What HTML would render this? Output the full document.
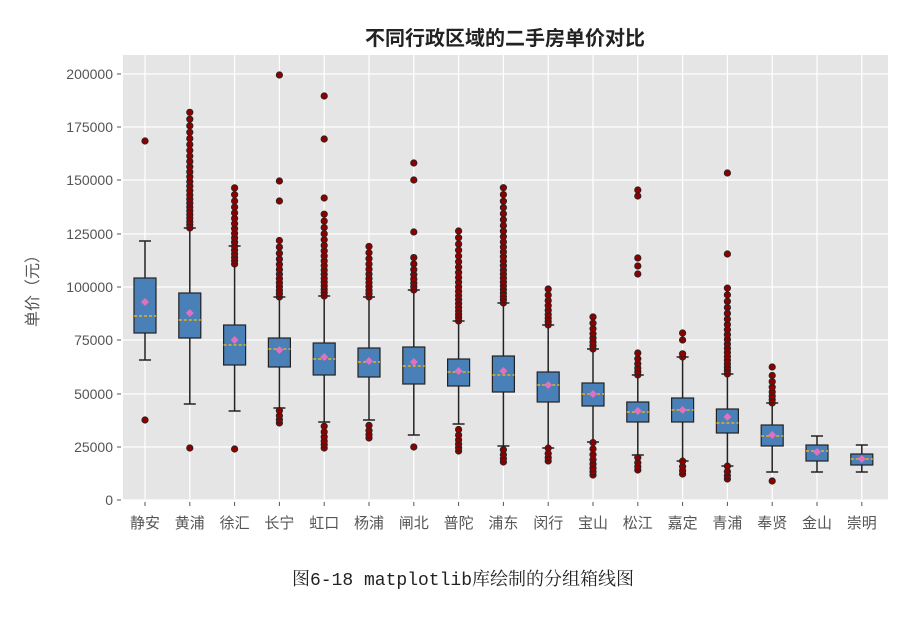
<!DOCTYPE html>
<html><head><meta charset="utf-8"><style>
body{margin:0;background:#fff;width:916px;height:612px;overflow:hidden}
</style></head><body>
<svg id="s" width="916" height="612" xmlns="http://www.w3.org/2000/svg" font-family="Liberation Sans, Noto Sans CJK SC, sans-serif">
<rect x="123" y="55" width="765" height="445" fill="#e5e5e5"/>
<g id="g"></g>
<text x="505" y="45" font-size="20" font-weight="bold" text-anchor="middle" fill="#222" font-family="Noto Sans CJK SC, sans-serif">不同行政区域的二手房单价对比</text>
<text transform="translate(38,287) rotate(-90)" font-size="16" text-anchor="middle" fill="#555" font-family="Noto Sans CJK SC, sans-serif">单价（元）</text>
<text x="463" y="585" font-size="18" text-anchor="middle" fill="#222" font-family="Liberation Mono, Noto Serif CJK SC, serif">图6-18  matplotlib库绘制的分组箱线图</text>
</svg>
<script>
var g=document.getElementById('g'),h='';
var yt=[[200000,74],[175000,127],[150000,180],[125000,234],[100000,287],[75000,340],[50000,394],[25000,447],[0,500]];
yt.forEach(function(t){h+='<line x1="123" x2="888" y1="'+t[1]+'" y2="'+t[1]+'" stroke="#fff" stroke-width="1.2"/>';
h+='<line x1="117" x2="121" y1="'+t[1]+'" y2="'+t[1]+'" stroke="#555"/>';
h+='<text x="113" y="'+(t[1]+5)+'" font-size="14" text-anchor="end" fill="#555">'+t[0]+'</text>';});
var names=['静安','黄浦','徐汇','长宁','虹口','杨浦','闸北','普陀','浦东','闵行','宝山','松江','嘉定','青浦','奉贤','金山','崇明'];
var D=[
[278,333,316,302,241,360,[141,420],[]],
[293,338,320,313,228,404,[448],[[110,228]]],
[325,365,345,340,246,411,[449],[[185,264]]],
[338,367,349,350,297,408,[75,181,201],[[238,297],[408,423]]],
[343,375,359,357,296,422,[96,139,198],[[214,296],[422,448]]],
[348,377,362,361,297,420,[],[[240,297],[424,438]]],
[347,384,366,362,290,435,[163,180,232,447],[[257,290]]],
[359,386,372,371,321,424,[],[[225,321],[424,451]]],
[356,392,375,371,303,446,[],[[184,303],[446,462]]],
[372,402,385,385,325,448,[],[[283,325],[448,461]]],
[383,406,394,394,349,442,[],[[315,349],[442,475]]],
[402,422,412,411,375,455,[190,196,258,266,274],[[350,375],[455,470]]],
[398,422,410,410,357,461,[333,340],[[350,357],[461,474]]],
[409,433,423,417,374,466,[173,254],[[285,374],[466,479]]],
[425,446,436,435,403,472,[367,481],[[375,403]]],
[445,461,451,452,436,472,[],[]],
[454,465,459,459,445,472,[],[]]];
names.forEach(function(n,i){var x=145+i*44.8;
h+='<line x1="'+x+'" x2="'+x+'" y1="55" y2="500" stroke="#fff" stroke-width="1.2"/>';
h+='<line x1="'+x+'" x2="'+x+'" y1="502" y2="506" stroke="#555"/>';
h+='<text x="'+x+'" y="528" font-size="15" text-anchor="middle" fill="#555" font-family="Noto Sans CJK SC, sans-serif">'+n+'</text>';});
names.forEach(function(n,i){var x=145+i*44.8,d=D[i];
h+='<line x1="'+x+'" x2="'+x+'" y1="'+d[4]+'" y2="'+d[0]+'" stroke="#222" stroke-width="1.5"/>';
h+='<line x1="'+x+'" x2="'+x+'" y1="'+d[1]+'" y2="'+d[5]+'" stroke="#222" stroke-width="1.5"/>';
h+='<line x1="'+(x-6)+'" x2="'+(x+6)+'" y1="'+d[4]+'" y2="'+d[4]+'" stroke="#222" stroke-width="1.5"/>';
h+='<line x1="'+(x-6)+'" x2="'+(x+6)+'" y1="'+d[5]+'" y2="'+d[5]+'" stroke="#222" stroke-width="1.5"/>';
h+='<rect x="'+(x-11)+'" y="'+d[0]+'" width="22" height="'+(d[1]-d[0])+'" fill="#4a80b8" stroke="#222" stroke-width="1.2"/>';
h+='<line x1="'+(x-11)+'" x2="'+(x+11)+'" y1="'+d[2]+'" y2="'+d[2]+'" stroke="#e8b020" stroke-width="1.5" stroke-dasharray="3,2"/>';
h+='<path d="M'+x+' '+(d[3]-4)+'L'+(x+4)+' '+d[3]+'L'+x+' '+(d[3]+4)+'L'+(x-4)+' '+d[3]+'Z" fill="#e070c0"/>';
var pts=d[6].slice();d[7].forEach(function(r){var len=r[1]-r[0];for(var y=r[1];y>=r[0];){pts.push(y);var f=len>0?(r[1]-y)/len:0;y-=3.2+f*4;}});
pts.forEach(function(y){h+='<circle cx="'+x+'" cy="'+y+'" r="3.2" fill="#8b0000" stroke="#222" stroke-width="0.8"/>';});});
g.innerHTML=h;
</script>
</body></html>
